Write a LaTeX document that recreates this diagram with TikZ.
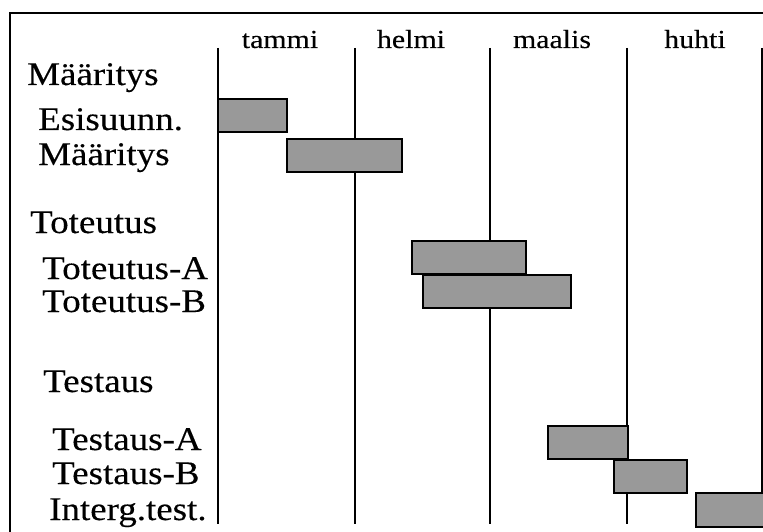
\documentclass[tikz,border=0pt]{standalone}
\usepackage{fontspec}
\newfontfamily\taskfont[FakeStretch=1.12,FakeBold=0.3]{Liberation Serif}
\newfontfamily\monthfont[FakeStretch=1.15,FakeBold=0.3]{Liberation Serif}
\usetikzlibrary{positioning}

\begin{document}
\begin{tikzpicture}[x=1pt,y=-1pt]

  \tikzstyle{task}=[anchor=base west,inner sep=0pt,font=\taskfont\fontsize{33}{36}\selectfont]
  \tikzstyle{month}=[anchor=base,inner sep=0pt,font=\monthfont\fontsize{26}{29}\selectfont]
  \tikzstyle{bar}=[draw=black,line width=2.6pt,fill=black!40]
  \tikzstyle{grid}=[line width=2pt]

  % ====================
  % Parameters
  % ====================
  \def\gridtop{48}    % Top of the month lines
  \def\gridbot{524}   % Bottom of the month lines
  \def\monthy{48}     % Baseline of the month names
  % ====================

  \useasboundingbox (0,0) rectangle (763,532);
  \clip (0,0) rectangle (763,532);

  % ====================
  % Frame
  % ====================
  \draw[line width=2pt] (10,560) -- (10,13) -- (800,13);

  % ====================
  % Months
  % ====================
  \foreach \gx in {218,355,490,627,762}
    \draw[grid] (\gx,\gridtop) -- (\gx,\gridbot);

  \node (tammi)  [month] at (280,\monthy) {tammi};
  \node (helmi)  [month] at (411,\monthy) {helmi};
  \node (maalis) [month] at (552,\monthy) {maalis};
  \node (huhti)  [month] at (695,\monthy) {huhti};

  % ====================
  % Tasks
  % ====================
  \node (maar)  [task] at (27,85)  {Määritys};
  \node (esi)   [task] at (38,130) {Esisuunn.};
  \node (maar2) [task] at (38,165) {Määritys};

  \node (tot)   [task] at (30,233) {Toteutus};
  \node (totA)  [task] at (42,279) {Toteutus-A};
  \node (totB)  [task] at (42,312) {Toteutus-B};

  \node (test)  [task] at (43,392) {Testaus};
  \node (testA) [task] at (52,450) {Testaus-A};
  \node (testB) [task] at (52,484) {Testaus-B};
  \node (integ) [task] at (49,520) {Interg.test.};

  % ====================
  % Bars
  % ====================
  \draw[bar] (218,99)  rectangle (287,132);
  \draw[bar] (287,139) rectangle (402,172);

  \draw[bar] (412,241) rectangle (526,274);
  \draw[bar] (423,275) rectangle (571,308);

  \draw[bar] (548,426) rectangle (628,459);
  \draw[bar] (614,460) rectangle (687,493);
  \draw[bar] (696,493) rectangle (790,527);
\end{tikzpicture}
\end{document}
